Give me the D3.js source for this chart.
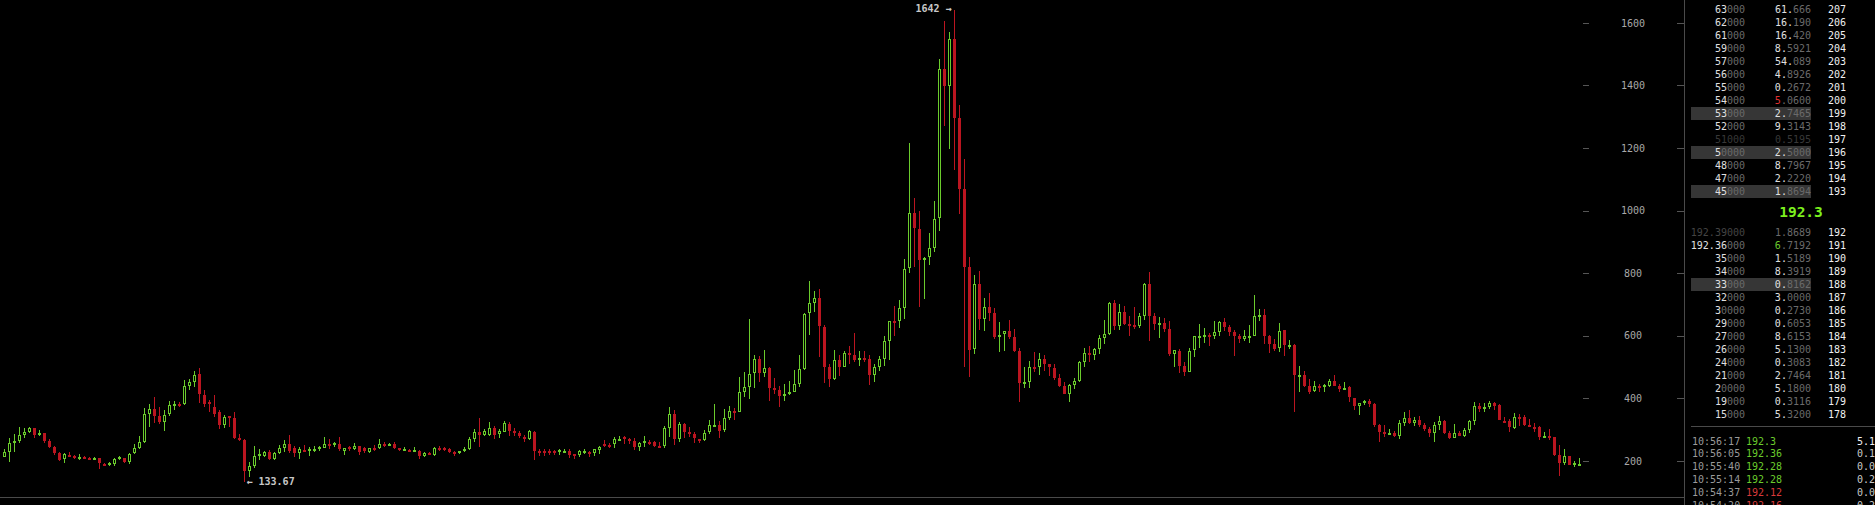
<!DOCTYPE html>
<html><head><meta charset="utf-8">
<script src="https://cdn.jsdelivr.net/npm/d3@7"></script>
<style>
html,body{margin:0;padding:0;background:#000;overflow:hidden}
svg{display:block}
text{font-family:"DejaVu Sans Mono",monospace;font-size:10px}
</style></head><body>
<svg id="c" width="1875" height="505"></svg>
<script>
// ---- candle data (one per period) ----
const open = [215,231,261,266,284,295,306,284,290,265,246,226,207,220,218,208,214,211,208,209,192,191,191,206,209,197,225,243,262,351,366,345,327,350,379,383,382,442,455,479,412,388,375,356,316,345,339,276,268,169,185,217,218,231,208,226,241,256,244,226,236,236,238,242,243,256,254,256,234,245,239,248,241,231,242,242,256,252,256,242,236,236,234,234,216,227,220,244,242,239,230,226,234,239,272,295,284,284,307,288,295,320,298,290,279,271,295,234,232,234,234,229,232,234,222,220,230,230,226,236,256,253,254,268,277,270,265,247,261,263,262,250,249,308,351,270,319,295,287,272,269,293,313,316,301,339,361,359,423,439,481,526,483,498,434,428,410,414,421,448,495,673,707,722,628,502,463,524,503,547,540,526,530,527,476,503,527,583,649,647,691,817,993,942,844,852,883,977,1453,1401,1549,1296,1071,820,558,767,656,693,674,599,606,617,596,554,448,453,503,500,526,511,498,467,441,415,444,457,516,545,541,560,595,608,705,634,676,639,636,634,666,767,665,639,642,622,544,553,505,486,555,596,599,604,602,614,645,629,613,599,590,599,602,666,668,601,575,561,620,570,573,474,476,441,425,442,437,441,457,442,432,439,401,377,385,393,383,316,295,288,292,282,324,338,324,332,316,302,292,316,330,291,276,292,282,300,330,378,373,372,387,380,330,328,306,343,341,316,311,310,277,281,277,220,194,217,192,191];
const high = [239,274,288,309,306,311,308,300,292,272,249,229,228,229,220,223,217,213,215,211,193,199,209,216,212,226,256,280,370,383,405,375,364,394,394,391,460,462,489,497,428,396,412,364,348,346,356,288,271,199,249,239,234,236,231,252,268,284,249,245,252,245,249,250,277,271,263,277,244,249,258,250,245,244,252,272,263,260,263,244,245,239,247,236,229,230,247,248,247,241,232,234,245,277,304,338,304,327,313,302,328,325,306,297,284,300,297,239,239,239,236,240,239,239,223,236,239,232,240,250,268,260,279,281,282,275,274,263,281,268,265,261,313,374,364,325,324,311,293,272,300,331,383,329,366,377,371,470,487,655,540,537,556,501,466,441,447,457,492,540,675,776,745,751,636,511,556,540,551,569,611,551,553,540,511,537,601,650,695,716,846,1216,1041,1000,854,929,1032,1485,1607,1571,1642,1339,1166,853,796,809,723,738,691,644,617,652,623,561,500,521,550,545,540,511,511,479,455,447,465,521,563,570,563,604,652,710,716,703,697,663,693,673,770,805,673,661,658,648,555,558,517,561,601,639,626,610,649,649,658,636,620,607,620,636,732,687,687,604,590,642,620,588,575,505,489,462,457,446,447,463,476,446,453,441,401,385,396,399,385,319,316,304,297,332,357,364,341,345,322,311,327,345,332,297,319,297,306,332,389,385,385,393,391,382,341,335,354,351,348,335,324,313,293,304,279,252,240,218,202,212];
const low = [213,199,229,258,274,290,274,281,260,241,220,202,196,213,208,205,208,206,205,174,186,186,185,205,194,192,223,239,258,311,322,320,298,345,364,372,380,428,439,386,375,356,343,302,306,311,271,264,133.67,151,178,205,215,205,205,224,231,226,215,208,230,217,231,234,242,239,247,234,220,234,236,220,226,228,234,239,247,249,239,234,234,232,231,207,213,220,218,233,233,228,217,224,231,236,263,245,281,281,272,273,293,281,281,276,263,268,205,217,218,220,220,219,230,210,208,215,223,215,217,224,245,244,241,265,256,256,236,233,246,252,247,244,244,277,252,263,276,279,258,260,266,286,310,273,295,333,333,356,404,400,435,455,471,394,415,373,393,412,420,439,492,604,678,533,450,436,460,473,501,512,518,505,518,444,455,490,505,524,599,625,655,801,822,693,720,826,870,937,1272,1198,1131,992,503,471,542,620,618,647,591,548,551,590,548,391,434,434,487,476,490,473,460,439,415,388,432,454,503,516,524,544,575,605,620,620,637,599,623,626,652,586,620,595,614,535,500,481,474,484,532,563,579,570,590,601,617,602,535,577,586,579,601,650,575,547,551,550,535,560,356,423,437,415,420,420,422,438,440,423,431,391,364,348,380,375,311,263,279,284,279,272,314,319,314,311,297,279,263,300,288,272,274,281,279,292,316,356,359,366,364,331,322,295,303,314,314,310,295,268,274,268,218,153,188,187,183,190];
const close = [229,258,265,284,295,307,284,291,265,245,226,205,222,217,212,215,210,208,210,193,190,194,206,213,197,223,242,263,350,366,346,326,348,379,382,380,441,452,477,414,382,382,350,316,343,342,276,268,170,185,217,224,230,207,227,241,256,234,226,239,232,239,240,245,256,251,257,239,243,241,249,231,234,243,239,256,252,256,244,238,239,234,236,218,227,225,243,239,236,230,228,233,239,272,295,284,298,306,284,298,322,298,290,282,274,298,234,232,229,230,226,236,234,220,218,233,234,226,239,245,250,249,270,272,270,266,247,259,264,260,249,247,308,350,270,319,295,289,273,269,291,316,315,298,339,360,357,421,437,478,526,483,497,435,428,410,415,421,447,495,671,705,721,631,503,463,524,503,547,541,524,530,527,476,501,527,583,649,646,689,814,993,945,842,851,881,975,1453,1401,1549,1298,1071,822,557,767,656,693,675,597,604,616,596,554,450,452,503,500,526,512,500,467,441,415,444,457,516,545,541,559,594,606,705,634,676,640,637,633,665,767,666,640,642,624,544,555,506,487,553,599,599,604,601,612,645,630,614,599,590,599,602,665,668,602,575,559,617,572,573,476,477,441,423,441,435,443,457,441,431,435,404,377,385,393,383,316,295,292,291,281,322,338,324,332,316,303,292,316,329,291,275,291,282,300,329,377,367,375,385,378,332,327,309,341,341,316,311,309,277,281,277,220,196,217,188,196,192.3];
const yTicks = [200,400,600,800,1000,1200,1400,1600];

// ---- order book ----
const askPrice = ["63000","62000","61000","59000","57000","56000","55000","54000","53000","52000","51000","50000","48000","47000","45000"];
const askSize  = ["61.666","16.190","16.420","8.5921","54.089","4.8926","0.2672","5.0600","2.7465","9.3143","0.5195","2.5000","8.7967","2.2220","1.8694"];
const askCount = [207,206,205,204,203,202,201,200,199,198,197,196,195,194,193];
const askMark  = ["","","","","","","","red","hl","","dim","hl","","","hl"];
const bidPrice = ["192.39000","192.36000","35000","34000","33000","32000","30000","29000","27000","26000","24000","21000","20000","19000","15000"];
const bidSize  = ["1.8689","6.7192","1.5189","8.3919","0.8162","3.0000","0.2730","0.6053","8.6153","5.1300","0.3083","2.7464","5.1800","0.3116","5.3200"];
const bidCount = [192,191,190,189,188,187,186,185,184,183,182,181,180,179,178];
const bidMark  = ["dimp","green","","","hl","","","","","","","","","",""];
const lastPrice = "192.3";

// ---- recent trades ----
const tradeTime  = ["10:56:17","10:56:05","10:55:40","10:55:14","10:54:37","10:54:20"];
const tradePrice = ["192.3","192.36","192.28","192.28","192.12","192.16"];
const tradeSide  = ["buy","buy","buy","buy","sell","sell"];
const tradeSize  = ["5.1","0.1","0.0","0.2","0.0","0.2"];

const GREEN = "#6acb2c", RED = "#bb1520";
const svg = d3.select("#c");
svg.append("rect").attr("width",1875).attr("height",505).attr("fill","#000");

const n = open.length;
const x = d3.scaleLinear().domain([0, n-1]).range([4.5, 1579.5]);
const y = d3.scaleLinear().domain([200,1600]).range([461.3, 23.3]);

// frame lines
svg.append("line").attr("x1",0).attr("x2",1684).attr("y1",497.5).attr("y2",497.5).attr("stroke","#4a4a4a");
svg.append("line").attr("x1",1684.5).attr("x2",1684.5).attr("y1",0).attr("y2",505).attr("stroke","#4a4a4a");

// y axis (ticks + labels)
const ax = svg.append("g");
yTicks.forEach(t => {
  const ty = Math.floor(y(t)) + 0.5;
  ax.append("line").attr("x1",1583).attr("x2",1589).attr("y1",ty).attr("y2",ty).attr("stroke","#555");
  ax.append("line").attr("x1",1677).attr("x2",1684).attr("y1",ty).attr("y2",ty).attr("stroke","#555");
  ax.append("text").attr("x",1633).attr("y",y(t)).attr("dy","0.32em").attr("text-anchor","middle")
    .attr("fill","#a8a8a8").text(t);
});

// candles
const cg = svg.append("g");
for (let i = 0; i < n; i++) {
  const up = close[i] >= open[i];
  const col = up ? GREEN : RED;
  const cx = Math.floor(x(i)) + 0.5;
  const yh = Math.round(y(high[i])), yl = Math.round(y(low[i]));
  const top = Math.round(y(Math.max(open[i], close[i])));
  const bot = Math.round(y(Math.min(open[i], close[i])));
  const h = Math.max(1, bot - top);
  cg.append("line").attr("x1",cx).attr("x2",cx).attr("y1",yh).attr("y2",Math.max(yl, yh+1)).attr("stroke",col);
  if (up) {
    cg.append("rect").attr("x",cx-1).attr("y",top+0.5).attr("width",2).attr("height",Math.max(1,h-1))
      .attr("fill","#000").attr("stroke",col).attr("stroke-width",1);
  } else {
    cg.append("rect").attr("x",cx-1.5).attr("y",top).attr("width",3).attr("height",Math.max(2,h)).attr("fill",col);
  }
}

// extreme labels
const iMax = d3.maxIndex(high), iMin = d3.minIndex(low);
svg.append("text").attr("x", x(iMax) - 3).attr("y", y(high[iMax]) - 1).attr("dy","0.32em")
  .attr("text-anchor","end").attr("fill","#c8c8c8").attr("font-weight","bold").text(high[iMax] + " \u2192");
svg.append("text").attr("x", x(iMin) + 2).attr("y", y(low[iMin])).attr("dy","0.32em")
  .attr("text-anchor","start").attr("fill","#c8c8c8").attr("font-weight","bold").text("\u2190 " + low[iMin]);

// ---- order book drawing ----
const ob = svg.append("g");
const BRIGHT = "#e0e0e0", DIMC = "#6a6a6a", DARK = "#383838";
function splitPrice(s){ const b = s.replace(/0+$/,""); return [b, s.slice(b.length)]; }
function splitSize(s){ const k = s.indexOf(".")+1; return [s.slice(0,k), s.slice(k)]; }
function row(cy, price, size, count, mark){
  if (mark === "hl") ob.append("rect").attr("x",1691).attr("y",cy-6.3).attr("width",120).attr("height",13).attr("fill","#363636");
  const pt = ob.append("text").attr("x",1745).attr("y",cy).attr("dy","0.35em").attr("text-anchor","end");
  const [pb, pd] = splitPrice(price);
  const st = ob.append("text").attr("x",1811).attr("y",cy).attr("dy","0.35em").attr("text-anchor","end");
  const [sb, sd] = splitSize(size);
  if (mark === "dim") {
    pt.attr("fill",DARK).text(price); st.attr("fill",DARK).text(size);
  } else if (mark === "dimp") {
    pt.attr("fill","#444").text(price); st.attr("fill",DIMC).text(size);
  } else {
    pt.append("tspan").attr("fill",BRIGHT).text(pb); pt.append("tspan").attr("fill",DIMC).text(pd);
    if (mark === "red" || mark === "green") {
      st.append("tspan").attr("fill", mark === "red" ? "#e03030" : GREEN).text(sb.slice(0,-1));
      st.append("tspan").attr("fill",DIMC).text("." + sd);
    } else {
      st.append("tspan").attr("fill",BRIGHT).text(sb); st.append("tspan").attr("fill",DIMC).text(sd);
    }
  }
  ob.append("text").attr("x",1828).attr("y",cy).attr("dy","0.35em").attr("fill","#f0f0f0").text(count);
}
askPrice.forEach((p,i) => row(9.3 + 13*i, p, askSize[i], askCount[i], askMark[i]));
bidPrice.forEach((p,i) => row(232.3 + 13*i, p, bidSize[i], bidCount[i], bidMark[i]));
ob.append("text").attr("x",1801).attr("y",212.3).attr("dy","0.35em").attr("text-anchor","middle")
  .style("font-size","14.5px").attr("font-weight","bold").attr("fill","#7cf01e").text(lastPrice);

// trades
ob.append("line").attr("x1",1691).attr("x2",1875).attr("y1",426.5).attr("y2",426.5).attr("stroke","#4a4a4a");
tradeTime.forEach((t,i) => {
  const cy = 441 + 12.8*i;
  ob.append("text").attr("x",1692).attr("y",cy).attr("dy","0.35em").attr("fill","#9a9a9a").text(t);
  ob.append("text").attr("x",1746).attr("y",cy).attr("dy","0.35em")
    .attr("fill", tradeSide[i] === "buy" ? GREEN : "#d83a3a").text(tradePrice[i]);
  ob.append("text").attr("x",1857).attr("y",cy).attr("dy","0.35em").attr("fill", i === 0 ? "#f0f0f0" : "#c8c8c8").text(tradeSize[i]);
});
</script>
</body></html>
